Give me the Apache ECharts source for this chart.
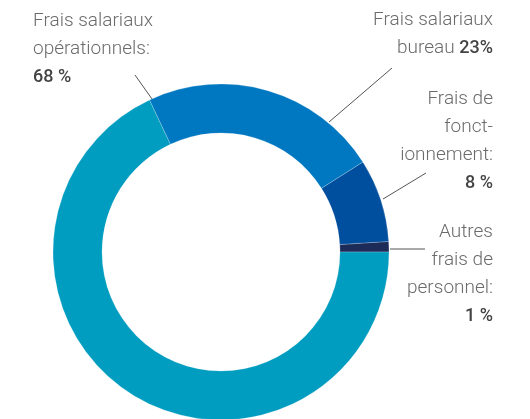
<!DOCTYPE html>
<html>
<head>
<meta charset="utf-8">
<script src="https://cdn.jsdelivr.net/npm/echarts@6/dist/echarts.min.js"></script>
<style>
  html, body { margin: 0; padding: 0; background: #fff; }
  #main { width: 530px; height: 419px; }
</style>
</head>
<body>
<div id="main"></div>
<script>
// slices, counter-clockwise from 3 o'clock
var categories = [
  "Autres frais de personnel",
  "Frais de fonctionnement",
  "Frais salariaux bureau",
  "Frais salariaux opérationnels"
];
var values = [1, 8, 23, 68];
var labelTexts = [
  "Autres\nfrais de\npersonnel:\n{b|1 %}",
  "Frais de\nfonct-\nionnement:\n{b|8 %}",
  "Frais salariaux\nbureau {b|23%}",
  "Frais salariaux\nopérationnels:\n{b|68 %}"
];
var colors = ["#1c2b58", "#004e9e", "#0078c1", "#009dc0"];

// where each label sits and how its leader line runs
var labelPlaces = [
  { x: 493, y: 218, align: "right", line: [[390, 249], [425, 249]] },
  { x: 493, y: 85, align: "right", line: [[383, 199], [426, 173]] },
  { x: 493, y: 6, align: "right", line: [[329, 122], [392, 68]] },
  { x: 33, y: 7, align: "left", line: [[152, 99], [135, 75]] }
];

var chartDom = document.getElementById("main");
var myChart = echarts.init(chartDom, null, { renderer: "canvas" });

var option = {
  animation: false,
  backgroundColor: "#fff",
  color: colors,
  series: [
    {
      type: "pie",
      center: [221, 252],
      radius: [119, 168],
      startAngle: 0,
      clockwise: false,
      avoidLabelOverlap: false,
      itemStyle: {
        borderColor: "rgba(255,255,255,0.35)",
        borderWidth: 0.6
      },
      emphasis: { disabled: true },
      label: {
        show: true,
        position: "outside",
        fontFamily: "Roboto",
        fontWeight: 300,
        fontSize: 19,
        lineHeight: 28,
        color: "#6b6b6b",
        formatter: function (p) {
          return labelTexts[p.dataIndex];
        },
        rich: {
          b: {
            fontFamily: "Roboto",
            fontWeight: 500,
            fontSize: 18,
            lineHeight: 28,
            color: "#444"
          }
        }
      },
      labelLine: {
        show: true,
        length: 10,
        length2: 0,
        lineStyle: { color: "#555", width: 1 }
      },
      labelLayout: function (params) {
        var p = labelPlaces[params.dataIndex];
        return {
          x: p.x,
          y: p.y,
          align: p.align,
          verticalAlign: "top",
          labelLinePoints: p.line
        };
      },
      data: categories.map(function (c, i) {
        return { name: c, value: values[i] };
      })
    }
  ]
};

option && myChart.setOption(option);
</script>
</body>
</html>
